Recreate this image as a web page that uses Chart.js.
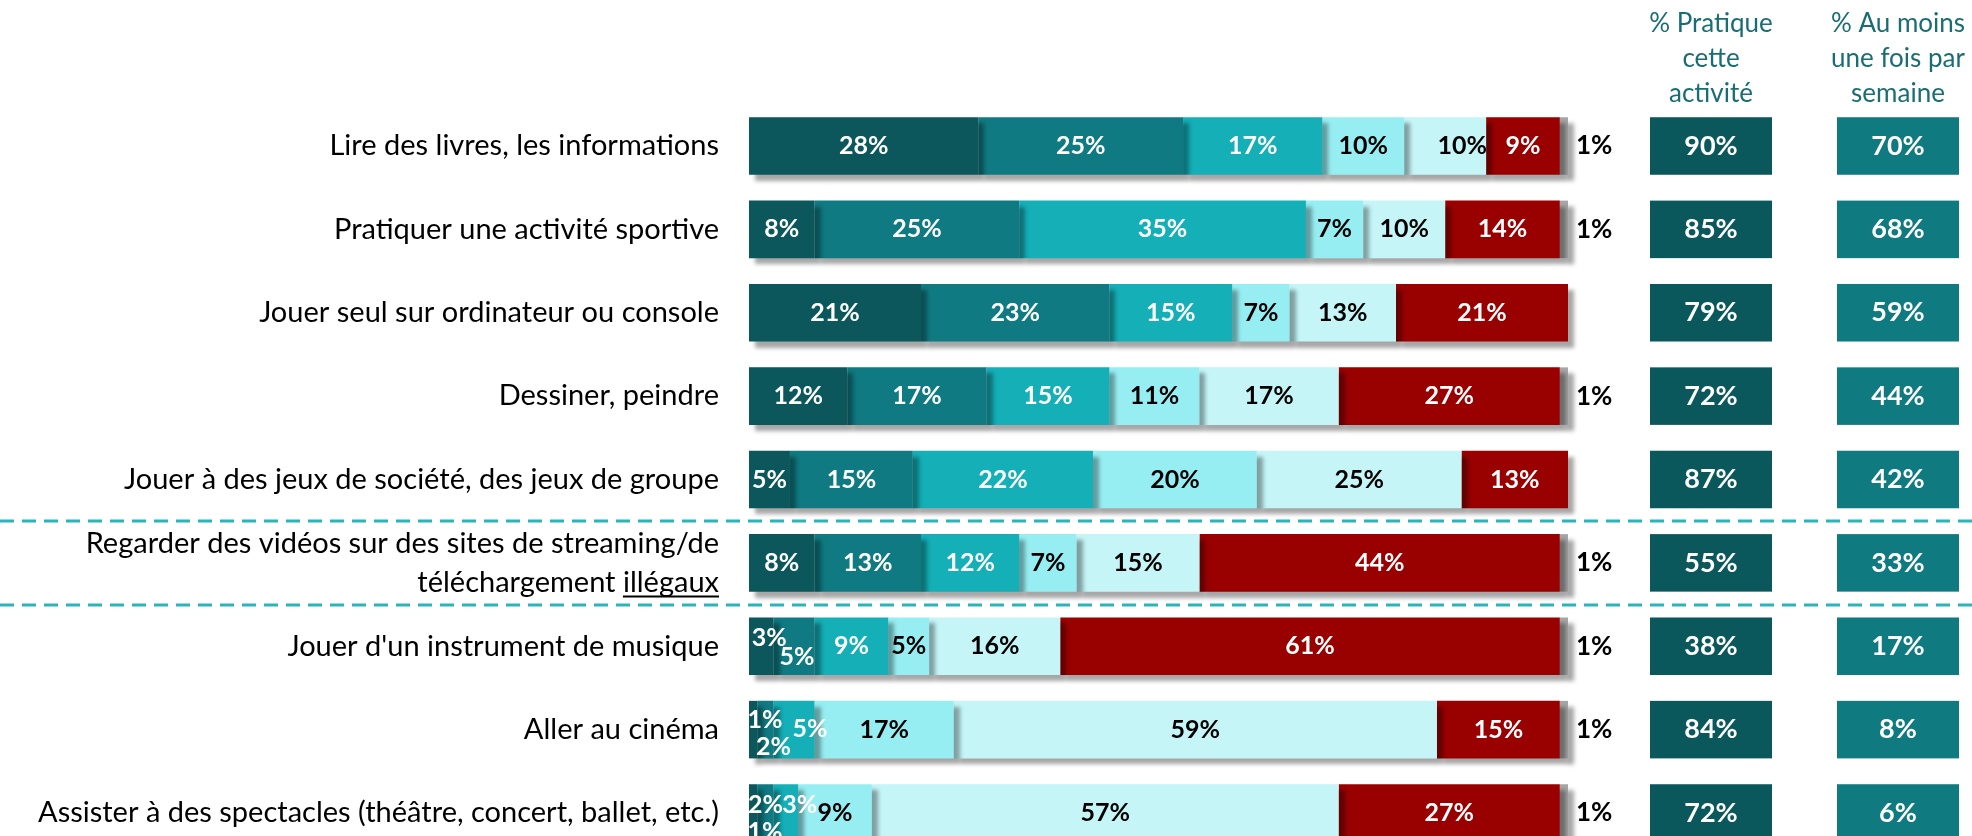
<!DOCTYPE html>
<html>
<head>
<meta charset="utf-8">
<script src="https://cdn.jsdelivr.net/npm/chart.js@4"></script>
<style>
  body { margin: 0; background: #fff; overflow: hidden; }
  #wrap { width: 1972px; height: 836px; position: relative; }
</style>
</head>
<body>
<div id="wrap"><canvas id="myChart"></canvas></div>
<script>
const categories = [
  'Lire des livres, les informations',
  'Pratiquer une activité sportive',
  'Jouer seul sur ordinateur ou console',
  'Dessiner, peindre',
  'Jouer à des jeux de société, des jeux de groupe',
  ['Regarder des vidéos sur des sites de streaming/de', 'téléchargement illégaux'],
  "Jouer d'un instrument de musique",
  'Aller au cinéma',
  'Assister à des spectacles (théâtre, concert, ballet, etc.)'
];

const tousLesJours   = [28, 8, 21, 12, 5, 8, 3, 1, 1];
const plusieursSem   = [25, 25, 23, 17, 15, 13, 5, 2, 2];
const uneFoisSem     = [17, 35, 15, 15, 22, 12, 9, 5, 3];
const plusieursMois  = [10, 7, 7, 11, 20, 7, 5, 17, 9];
const plusRarement   = [10, 10, 13, 17, 25, 15, 16, 59, 57];
const jamais         = [9, 14, 21, 27, 13, 44, 61, 15, 27];
const nsp            = [1, 1, 0, 1, 0, 1, 1, 1, 1];

const pratique = [90, 85, 79, 72, 87, 55, 38, 84, 72];
const auMoinsUneFois = [70, 68, 59, 44, 42, 33, 17, 8, 6];

const headers = [
  ['% Pratique', 'cette', 'activité'],
  ['% Au moins', 'une fois par', 'semaine']
];

// petits decalages des etiquettes qui se chevauchent (ligne-serie : [dx, dy])
const nudges = {
  '0-4': [17, 0],
  '6-0': [8, -8], '6-1': [3, 11],
  '7-0': [12, -10], '7-1': [8, 17], '7-2': [16, -1],
  '8-0': [12, 19], '8-1': [0, -8], '8-2': [14, -8]
};

const FONT = 'Lato, "Open Sans", sans-serif';
const LABEL_SIZE = 29;

const series = [
  { label: 'Tous les jours', data: tousLesJours, color: '#0B575B', text: '#fff' },
  { label: 'Plusieurs fois par semaine', data: plusieursSem, color: '#0F7A81', text: '#fff' },
  { label: 'Une fois par semaine', data: uneFoisSem, color: '#14AFB7', text: '#fff' },
  { label: 'Plusieurs fois par mois', data: plusieursMois, color: '#97EEF2', text: '#000' },
  { label: 'Plus rarement', data: plusRarement, color: '#C5F5F7', text: '#000' },
  { label: 'Jamais', data: jamais, color: '#990000', text: '#fff' },
  { label: 'NSP', data: nsp, color: '#A6A6A6', text: '#000' }
];

const shadowPlugin = {
  id: 'shadow',
  beforeDatasetsDraw(chart) {
    const ctx = chart.ctx;
    ctx.save();
    ctx.shadowColor = 'rgba(0,0,0,0.35)';
    ctx.shadowBlur = 4;
    ctx.shadowOffsetX = 6;
    ctx.shadowOffsetY = 6;
  },
  afterDatasetsDraw(chart) {
    chart.ctx.restore();
  }
};

const extrasPlugin = {
  id: 'extras',
  afterDraw(chart) {
    const ctx = chart.ctx;
    const area = chart.chartArea;
    const yScale = chart.scales.y;

    // separateurs pointilles autour de la ligne "streaming"
    ctx.save();
    ctx.strokeStyle = '#2BB4BA';
    ctx.lineWidth = 3;
    ctx.setLineDash([14, 8]);
    [4, 5].forEach(i => {
      const y = Math.round((yScale.getPixelForValue(i) + yScale.getPixelForValue(i + 1)) / 2);
      ctx.beginPath();
      ctx.moveTo(0, y);
      ctx.lineTo(chart.width, y);
      ctx.stroke();
    });
    ctx.restore();

    // etiquettes des segments
    ctx.save();
    ctx.textBaseline = 'middle';
    chart.data.datasets.forEach((ds, d) => {
      const meta = chart.getDatasetMeta(d);
      meta.data.forEach((bar, i) => {
        const v = ds.data[i];
        if (!v) return;
        if (d === series.length - 1) {
          ctx.font = 'bold 26px ' + FONT;
          ctx.fillStyle = '#000';
          ctx.textAlign = 'left';
          ctx.fillText(v + '%', area.right + 8, bar.y);
          return;
        }
        ctx.font = 'bold 25px ' + FONT;
        const n = nudges[i + '-' + d] || [0, 0];
        ctx.fillStyle = series[d].text;
        ctx.textAlign = 'center';
        ctx.fillText(v + '%', (bar.x + bar.base) / 2 + n[0], bar.y + n[1]);
      });
    });

    // colonnes de droite
    const cols = [
      { values: pratique, color: '#0B585C', left: area.right + 82 },
      { values: auMoinsUneFois, color: '#0F7A80', left: area.right + 269 }
    ];
    const boxW = 122;
    const ref = chart.getDatasetMeta(0).data;
    cols.forEach((c, k) => {
      const cx = c.left + boxW / 2;
      ref.forEach((bar, i) => {
        const h = bar.height;
        ctx.fillStyle = c.color;
        ctx.fillRect(c.left, bar.y - h / 2, boxW, h);
        ctx.fillStyle = '#fff';
        ctx.textAlign = 'center';
        ctx.font = 'bold 27px ' + FONT;
        ctx.fillText(c.values[i] + '%', cx, bar.y);
      });
      ctx.fillStyle = '#186E72';
      ctx.font = '26px ' + FONT;
      headers[k].forEach((line, j) => ctx.fillText(line, cx, 24 + j * 35));
    });

    // soulignement de "illégaux"
    ctx.font = LABEL_SIZE + 'px ' + FONT;
    const lh = 39;
    const yLine2 = yScale.getPixelForValue(5) + lh / 2;
    const xr = area.left - 30;
    const w = ctx.measureText('illégaux').width;
    ctx.strokeStyle = '#000';
    ctx.lineWidth = 2;
    ctx.beginPath();
    ctx.moveTo(xr - w, yLine2 + 14);
    ctx.lineTo(xr, yLine2 + 14);
    ctx.stroke();
    ctx.restore();
  }
};

const ctx = document.getElementById('myChart');

new Chart(ctx, {
  type: 'bar',
  data: {
    labels: categories,
    datasets: series.map(s => ({
      label: s.label,
      data: s.data,
      backgroundColor: s.color,
      borderWidth: 0,
      barPercentage: 0.69,
      categoryPercentage: 1,
      clip: false
    }))
  },
  options: {
    indexAxis: 'y',
    responsive: true,
    maintainAspectRatio: false,
    animation: false,
    events: [],
    layout: {
      padding: { left: 0, right: 404, top: 146, bottom: 23 }
    },
    plugins: {
      legend: { display: false },
      tooltip: { enabled: false }
    },
    scales: {
      x: {
        stacked: true,
        min: 0,
        max: 100,
        display: false
      },
      y: {
        stacked: true,
        offset: false,
        grid: { display: false, drawTicks: false },
        border: { display: false },
        ticks: {
          padding: 30,
          color: '#000',
          font: { family: FONT, size: LABEL_SIZE, lineHeight: 39 / LABEL_SIZE }
        },
        afterFit(scale) {
          scale.width = 749;
          scale.paddingTop = 0;
          scale.paddingBottom = 0;
        }
      }
    }
  },
  plugins: [shadowPlugin, extrasPlugin]
});
</script>
</body>
</html>
